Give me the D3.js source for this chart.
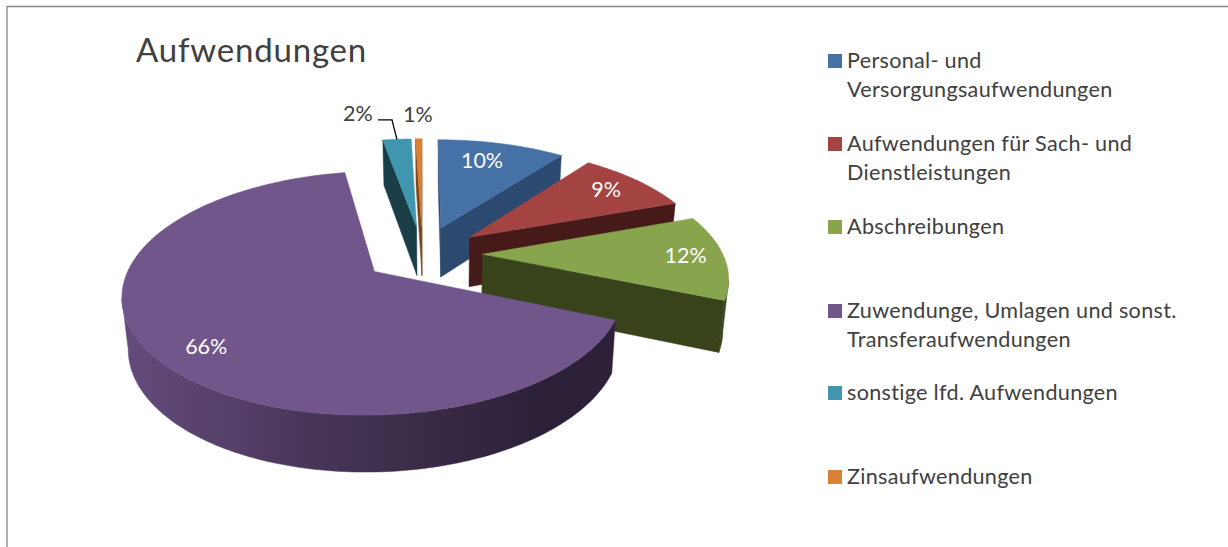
<!DOCTYPE html>
<html><head><meta charset="utf-8">
<script src="https://cdn.jsdelivr.net/npm/d3@7"></script>
<style>html,body{margin:0;padding:0;background:#fff}svg{display:block}text{font-family:Lato,sans-serif}</style>
</head><body><svg id="c" width="1228" height="547"></svg>
<script>
const categories = ["Personal- und Versorgungsaufwendungen","Aufwendungen für Sach- und Dienstleistungen","Abschreibungen","Zuwendunge, Umlagen und sonst. Transferaufwendungen","sonstige lfd. Aufwendungen","Zinsaufwendungen"];
const legendLines = [["Personal- und","Versorgungsaufwendungen"],["Aufwendungen für Sach- und","Dienstleistungen"],["Abschreibungen"],["Zuwendunge, Umlagen und sonst.","Transferaufwendungen"],["sonstige lfd. Aufwendungen"],["Zinsaufwendungen"]];
const values = [10.3, 9.2, 11.8, 65.9, 2.3, 0.5];
const valueLabels = ["10%","9%","12%","66%","2%","1%"];
const topColors = ["#4571a7","#a44442","#88a44c","#71568b","#3f96ae","#da8136"];
const wallColors = ["#2c4a70","#451a19","#38431c","#4a3a5e","#1a3e48","#7a4519"];
const legendY = [54,137,220,304,386,470];
const labelRadius = [0.766,0.812,0.843,0.82,1.40,1.337];
const labelTurn = [-2.6,-0.7,-0.5,-5,-7.2,0];

const svg = d3.select("#c");
const W=240, K=111.7, P=0.1737, X0=422.5, Y0=253.5, EXPLODE=0.25;
const sx=d3.scaleLinear().domain([0,1]).range([X0,X0+W]);
const sy=d3.scaleLinear().domain([0,1]).range([Y0,Y0+K]);
const top3=(u,v)=>{const w=1-P*v;return [sx(u/w),sy(v/w)];};
const bottom=([x,y])=>[440+(x-440)*0.98, y+49+(y-230)*0.043];
const line=d3.line().curve(d3.curveLinearClosed);

const arcs=d3.pie().sort(null).value(d=>d).startAngle(0).endAngle(2*Math.PI)(values);
const defs=svg.append("defs");
const grad=defs.append("linearGradient").attr("id","wallGrad").attr("gradientUnits","userSpaceOnUse")
  .attr("x1",125).attr("x2",615).attr("y1",0).attr("y2",0);
grad.append("stop").attr("offset",0).attr("stop-color","#634b7b");
grad.append("stop").attr("offset",0.5).attr("stop-color","#40304f");
grad.append("stop").attr("offset",0.85).attr("stop-color","#2b2038");
grad.append("stop").attr("offset",1).attr("stop-color","#2d2139");

svg.append("path").attr("d","M7,547V6.5H1228").attr("fill","none").attr("stroke","#868686").attr("stroke-width",1.3);

svg.append("text").attr("x",136).attr("y",62).attr("font-size",33).attr("letter-spacing",0.8).attr("fill","#404040").text("Aufwendungen");

// paint order: back slices first
const order=[4,5,0,1,2,3];
order.forEach(i=>{
  const a=arcs[i], mid=(a.startAngle+a.endAngle)/2;
  const cu=EXPLODE*Math.sin(mid), cv=-EXPLODE*Math.cos(mid);
  const n=Math.max(2,Math.ceil((a.endAngle-a.startAngle)/0.02));
  const pts=[top3(cu,cv)];
  d3.range(n+1).forEach(j=>{const t=a.startAngle+(a.endAngle-a.startAngle)*j/n;
    pts.push(top3(cu+Math.sin(t),cv-Math.cos(t)));});
  const g=svg.append("g");
  const m=pts.length;
  const wall=(list,fill)=>{const b=list.slice().reverse().map(bottom);
    g.append("path").attr("d",line(list.concat(b))).attr("fill",fill).attr("stroke",fill).attr("stroke-width",0.5);};
  if(pts[1][0]<pts[0][0] && i!==3) wall([pts[0],pts[1]],wallColors[i]);
  if(pts[0][0]<pts[m-1][0] && i!==3) wall([pts[m-1],pts[0]],wallColors[i]);
  const outer=pts.slice(1).filter((p,j,arr)=> (j<arr.length-1&&arr[j+1][0]<p[0])||(j>0&&p[0]<arr[j-1][0]));
  if(outer.length>1) wall(outer, i===3?"url(#wallGrad)":wallColors[i]);
  g.append("path").attr("d",line(pts)).attr("fill",topColors[i]).attr("stroke",topColors[i]).attr("stroke-width",0.5);
});

arcs.forEach((a,i)=>{
  const mid=(a.startAngle+a.endAngle)/2, cu=EXPLODE*Math.sin(mid), cv=-EXPLODE*Math.cos(mid);
  const t=mid+labelTurn[i]*Math.PI/180, r=labelRadius[i];
  const [x,y]=top3(cu+r*Math.sin(t),cv-r*Math.cos(t));
  svg.append("text").attr("x",x).attr("y",y).attr("dy","0.36em").attr("text-anchor","middle")
    .attr("font-size",21.5).attr("fill",i<4?"#ffffff":"#404040").text(valueLabels[i]);
});

{
  const a=arcs[4], mid=(a.startAngle+a.endAngle)/2, cu=EXPLODE*Math.sin(mid), cv=-EXPLODE*Math.cos(mid);
  const end=top3(cu+Math.sin(mid),cv-Math.cos(mid));
  svg.append("path").attr("d",d3.line()([[end[0]-19,end[1]-19.5],[end[0]-5,end[1]-19.5],end]))
    .attr("fill","none").attr("stroke","#000").attr("stroke-width",1.3);
}

legendLines.forEach((lines,i)=>{
  svg.append("rect").attr("x",828).attr("y",legendY[i]).attr("width",14).attr("height",14).attr("fill",topColors[i]);
  lines.forEach((s,j)=>{
    svg.append("text").attr("x",847).attr("y",legendY[i]+14+j*28.5).attr("font-size",21.6).attr("letter-spacing",0.3).attr("fill","#404040").text(s);
  });
});
</script></body></html>
